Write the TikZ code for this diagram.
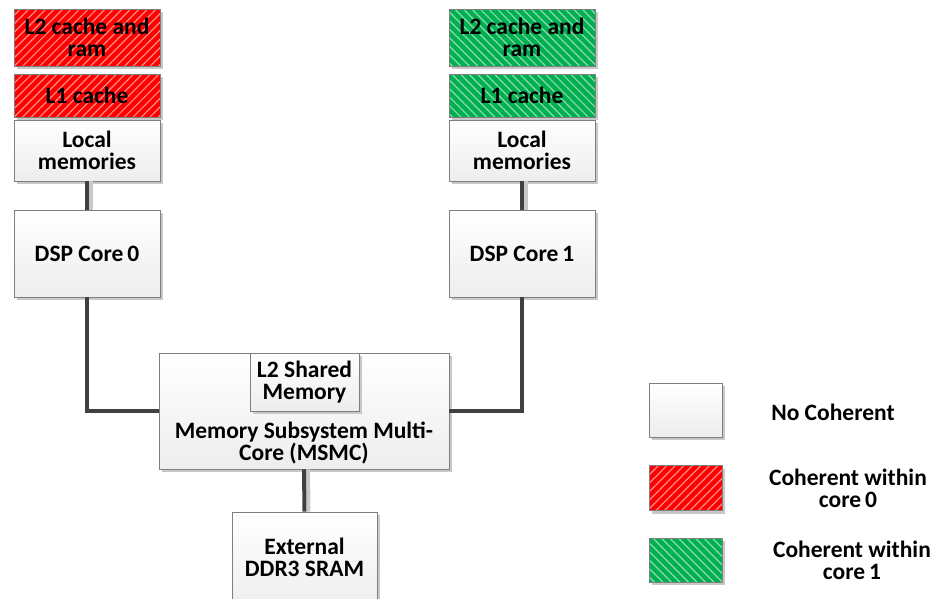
\documentclass[tikz,border=0pt]{standalone}
\usepackage{fontspec}
\setmainfont{Carlito}
\usetikzlibrary{patterns.meta,shadows}
\definecolor{boxline}{HTML}{7F7F7F}
\definecolor{conn}{HTML}{404040}
\definecolor{shad}{HTML}{C8C8C8}
\definecolor{cred}{HTML}{FF0000}
\definecolor{cgreen}{HTML}{00B050}
\begin{document}
\begin{tikzpicture}[x=1pt,y=-1pt,
  base/.style={draw=boxline, line width=0.8pt, align=center, inner sep=0pt, text=black,
    font=\fontsize{23.5}{22}\selectfont\bfseries,
    drop shadow={shadow xshift=3pt, shadow yshift=-3pt, fill=shad, opacity=1}},
  plainbox/.style={base, top color=white, bottom color=gray!14},
  redbox/.style={base, preaction={fill=cred},
    pattern={Lines[angle=45,distance=6pt,line width=1.2pt]}, pattern color=white!55!cred},
  greenbox/.style={base, preaction={fill=cgreen},
    pattern={Lines[angle=-45,distance=6pt,line width=1.2pt]}, pattern color=white!55!cgreen},
  conn/.style={draw=conn, line width=4pt},
  connshadow/.style={draw=shad, line width=4pt},
  legtext/.style={align=center, font=\fontsize{23.5}{22}\selectfont\bfseries, text=black}
]
\useasboundingbox (0,0) rectangle (943,598);

% left column
\node[redbox, minimum width=146pt, minimum height=57pt] (ltwo0) at (87,37.5) {L2 cache and\\ram};
\node[redbox, minimum width=146pt, minimum height=43pt] (lone0) at (87,95.5) {L1 cache};
\node[plainbox, minimum width=146pt, minimum height=61pt] (lm0) at (87,150.5) {Local\\memories};
\node[plainbox, minimum width=146pt, minimum height=87pt] (dsp0) at (87,253.5) {DSP Core\,0};

% right column
\node[greenbox, minimum width=146pt, minimum height=57pt] (ltwo1) at (522,37.5) {L2 cache and\\ram};
\node[greenbox, minimum width=146pt, minimum height=43pt] (lone1) at (522,95.5) {L1 cache};
\node[plainbox, minimum width=146pt, minimum height=61pt] (lm1) at (522,150.5) {Local\\memories};
\node[plainbox, minimum width=146pt, minimum height=87pt] (dsp1) at (522,253.5) {DSP Core\,1};

% MSMC
\node[plainbox, minimum width=290pt, minimum height=116pt] (msmc) at (304,411) {};
\node[plainbox, minimum width=109pt, minimum height=58pt] (l2sh) at (304.5,382) {L2 Shared\\Memory};
\node[legtext] (msmctext) at (304,443) {Memory Subsystem Multi-\\Core (MSMC)};

% External
\node[plainbox, minimum width=145pt, minimum height=100pt] (ext) at (304.5,562) {};
\node[legtext] (exttext) at (304.5,557) {External\\DDR3 SRAM};

% connectors
\draw[connshadow] ([xshift=4pt]lm0.south) -- ([xshift=4pt]dsp0.north);
\draw[conn] (lm0.south) -- (dsp0.north);
\draw[connshadow] ([xshift=4pt]lm1.south) -- ([xshift=4pt]dsp1.north);
\draw[conn] (lm1.south) -- (dsp1.north);
\draw[conn] (dsp0.south) |- (msmc.west);
\draw[conn] (dsp1.south) |- (msmc.east);
\draw[connshadow] ([xshift=4pt]msmc.south) -- ([xshift=4pt]ext.north);
\draw[conn] (msmc.south) -- (ext.north);

% legend
\node[plainbox, minimum width=73pt, minimum height=54pt] (lgplain) at (685.5,410) {};
\node[redbox, minimum width=73pt, minimum height=45pt] (lgred) at (685.5,488) {};
\node[greenbox, minimum width=73pt, minimum height=44pt] (lggreen) at (685.5,560) {};
\node[legtext] (lgplaintext) at (833,412) {No Coherent};
\node[legtext] (lgredtext) at (848,488) {Coherent within\\core\,0};
\node[legtext] (lggreentext) at (852,560) {Coherent within\\core\,1};
\end{tikzpicture}
\end{document}
